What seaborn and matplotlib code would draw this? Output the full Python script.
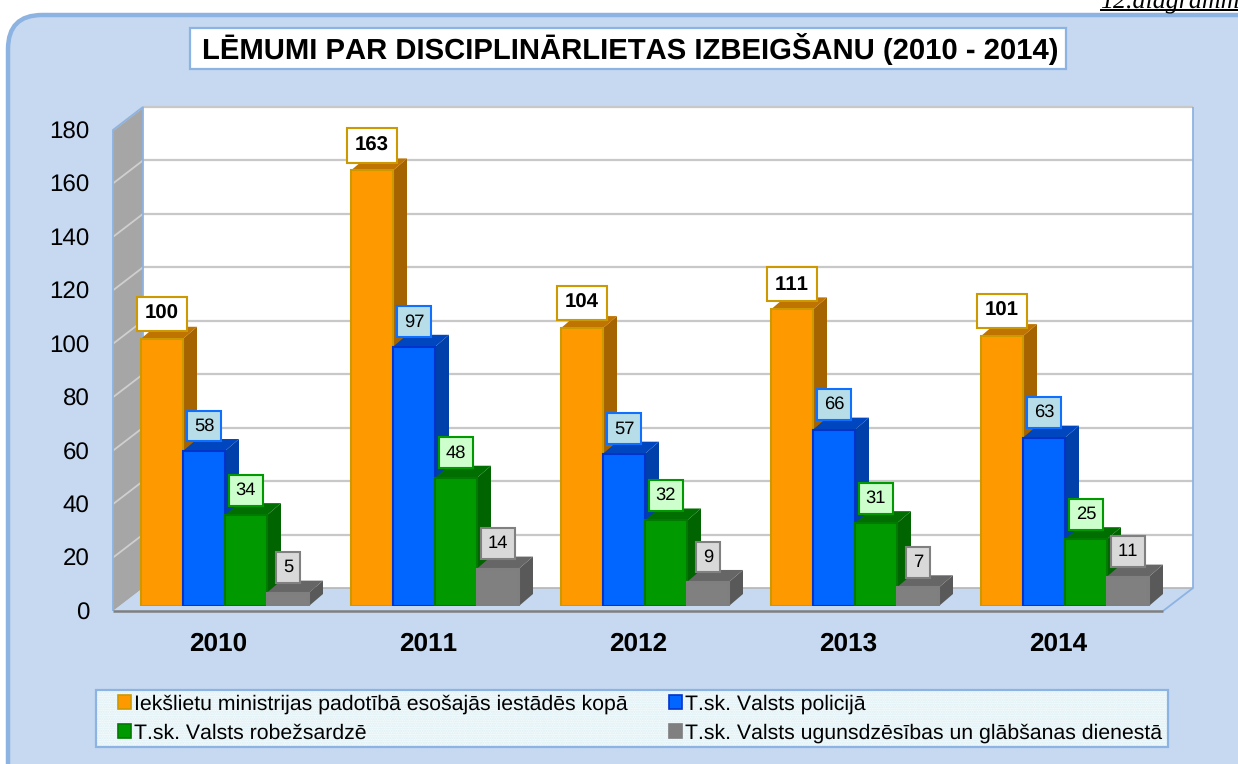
import matplotlib
matplotlib.use('Agg')
import matplotlib.pyplot as plt
import seaborn as sb
import pandas as pd
from matplotlib.patches import FancyBboxPatch, Patch, Polygon, Rectangle
from matplotlib.transforms import IdentityTransform, ScaledTranslation

years = ['2010', '2011', '2012', '2013', '2014']
series = ['Iekšlietu ministrijas padotībā esošajās iestādēs kopā',
          'T.sk. Valsts policijā',
          'T.sk. Valsts robežsardzē',
          'T.sk. Valsts ugunsdzēsības un glābšanas dienestā']
total = [100, 163, 104, 111, 101]
police = [58, 97, 57, 66, 63]
border = [34, 48, 32, 31, 25]
fire = [5, 14, 9, 7, 11]
y_ticks = [0, 20, 40, 60, 80, 100, 120, 140, 160, 180]

face = ['#FF9900', '#0066FF', '#009900', '#808080']
edge = ['#CC9900', '#0033CC', '#007A00', '#7F7F7F']
side = ['#A66400', '#0040AA', '#006400', '#595959']
top = ['#BF7300', '#0047BF', '#006E00', '#666666']
label_edge = ['#CC9900', '#0F6FFF', '#009900', '#808080']
label_face = ['#FFFFFF', '#B7DDE8', '#CCFFCC', '#D9D9D9']

W, H = 1238, 764
sb.set_style('white', {'text.color': 'black', 'xtick.color': 'black', 'ytick.color': 'black'})
plt.rcParams['font.family'] = ['Liberation Sans', 'DejaVu Sans']
plt.rcParams['text.hinting'] = 'no_hinting'
plt.rcParams['text.kerning_factor'] = 6

df = pd.DataFrame({'year': years * 4,
                   'kind': [s for s in series for _ in years],
                   'value': total + police + border + fire})

fig = plt.figure(figsize=(W / 100, H / 100), dpi=100, facecolor='white')
disp = IdentityTransform()

# rounded panel behind everything, runs off the right and bottom
fig.add_artist(FancyBboxPatch((8, -40), W + 40, H - 13 + 40 - 2,
                              boxstyle='round,pad=0,rounding_size=34',
                              fc='#C6D9F1', ec='#8DB3E2', lw=3.2, transform=disp, zorder=-5))

# clipped caption at the very top
fig.text(1100 / W, 1 - 7 / H, '12.diagramma', family='Liberation Serif', style='italic',
         fontsize=18.7, ha='left', va='baseline', color='black', zorder=-1)
fig.add_artist(Rectangle((1100, H - 11), 140, 1.6, fc='black', ec='none', transform=disp, zorder=-1))

fig.add_artist(Rectangle((190, H - 69), 876, 41, fc='white', ec='#8DB3E2', lw=1.6,
                         transform=disp, zorder=-4))
fig.text(630 / W, 1 - 50 / H, 'LĒMUMI PAR DISCIPLINĀRLIETAS IZBEIGŠANU (2010 - 2014)',
         fontsize=21.05, fontweight='bold', ha='center', va='center', color='black', zorder=-1)

ax = fig.add_axes([120 / W, (H - 606) / H, 1050 / W, 481 / H])
ax.patch.set_alpha(0)
sb.barplot(data=df, x='year', y='value', hue='kind', hue_order=series, order=years,
           palette=face, saturation=1, width=0.8, gap=0, legend=False, ax=ax, zorder=3)
ax.set_xlim(-0.5, 4.5)
ax.set_ylim(0, 180)
ax.set_yticks(y_ticks)
ax.set_xlabel('')
ax.set_ylabel('')
sb.despine(ax=ax, left=True, bottom=True, top=True, right=True)
ax.tick_params(axis='both', length=0)
ax.tick_params(axis='y', labelsize=17.4, pad=22)
ax.tick_params(axis='x', labelsize=18.8, pad=32)
for lab in ax.get_xticklabels():
    lab.set_fontweight('bold')
    lab.set_verticalalignment('baseline')
    lab.set_transform(lab.get_transform() + ScaledTranslation(-7 / 100, 0, fig.dpi_scale_trans))
for lab in ax.get_yticklabels():
    lab.set_transform(lab.get_transform() + ScaledTranslation(0, -5 / 100, fig.dpi_scale_trans))

# box depth in pixels, front and back plane relative to the bars
front = (-7, -5)
back = (23, 18)
dx, dy = 14, 12


def shift(p, off):
    return (p[0] + off[0], p[1] + off[1])


def add(points, fc, ec='none', lw=0.0, z=1.0, closed=True):
    ax.add_patch(Polygon(points, closed=closed, fc=fc, ec=ec, lw=lw, transform=disp,
                         clip_on=False, zorder=z))


x0, x1 = ax.get_xlim()
low_l = ax.transData.transform((x0, 0))
low_r = ax.transData.transform((x1, 0))
top_l = ax.transData.transform((x0, y_ticks[-1]))
top_r = ax.transData.transform((x1, y_ticks[-1]))

# back wall, left wall, floor
add([shift(low_l, back), shift(low_r, back), shift(top_r, back), shift(top_l, back)], 'white', z=0.5)
add([shift(low_l, front), shift(low_l, back), shift(top_l, back), shift(top_l, front)], '#A6A6A6', z=0.6)
add([shift(low_l, front), shift(low_r, front), shift(low_r, back), shift(low_l, back)], '#C6D9F1', z=0.6)
for t in y_ticks:
    a = ax.transData.transform((x0, t))
    b = ax.transData.transform((x1, t))
    if t > 0:
        add([shift(a, back), shift(b, back)], 'none', '#C8C8C8', 1.6, 0.7, closed=False)
        add([shift(a, front), shift(a, back)], 'none', '#CFCFCF', 1.3, 0.7, closed=False)
    else:
        add([shift(a, back), shift(b, back)], 'none', '#B5B5B5', 1.2, 0.7, closed=False)
add([shift(low_l, front), shift(low_r, front)], 'none', '#7F7F7F', 1.8, 0.8, closed=False)
add([shift(low_r, front), shift(low_r, back), shift(top_r, back)], 'none', '#8DB3E2', 1.3, 0.75, closed=False)
add([shift(low_l, front), shift(top_l, front), shift(top_l, back), shift(low_l, back)], 'none', '#8DB3E2', 1.3, 0.75, closed=False)

# fake 3d faces on every bar, taken from the bars seaborn drew
for h, cont in enumerate(ax.containers):
    for bar, val in zip(cont, cont.datavalues):
        bar.set_edgecolor(edge[h])
        bar.set_linewidth(1.5)
        bar.set_zorder(3 + 2 * h)
        xl = bar.get_x()
        xr = xl + bar.get_width()
        tl = ax.transData.transform((xl, val))
        tr = ax.transData.transform((xr, val))
        br = ax.transData.transform((xr, 0))
        add([tr, br, shift(br, (dx, dy)), shift(tr, (dx, dy))], side[h], z=2 + 2 * h)
        add([tl, tr, shift(tr, (dx, dy)), shift(tl, (dx, dy))], top[h], z=2 + 2 * h)
        ax.annotate(str(int(val)), ((xl + xr) / 2, val), xytext=(0, 25), textcoords='offset pixels',
                    ha='center', va='center', annotation_clip=False, zorder=30,
                    fontsize=14.7 if h == 0 else 13.2, fontweight='bold' if h == 0 else 'normal',
                    color='black',
                    bbox=dict(boxstyle='square,pad=0.38', fc=label_face[h], ec=label_edge[h], lw=1.5))

# legend, mpl fills columns first so order is orange, green, blue, gray
order = [0, 2, 1, 3]
handles = [Patch(fc=face[i], ec=edge[i], lw=1.2) for i in order]
fig.add_artist(Rectangle((96, H - 747), 1072, 57, fc='#F3FAFC', ec='#DCEFF4', lw=0,
                         hatch='.......', transform=disp, zorder=-3))
fig.add_artist(Rectangle((96, H - 747), 1072, 57, fc='none', ec='#8DB3E2', lw=1.6,
                         transform=disp, zorder=-2))
leg = fig.legend(handles, [series[i] for i in order], ncol=2, loc='center left',
                 bbox_to_anchor=(118 / W, (H - 718.5) / H),
                 fontsize=15.35, frameon=False,
                 handlelength=0.62, handleheight=0.62, handletextpad=0.15,
                 columnspacing=1.92, labelspacing=0.44, borderaxespad=0, borderpad=0)

fig.savefig('out.png', dpi=100)
